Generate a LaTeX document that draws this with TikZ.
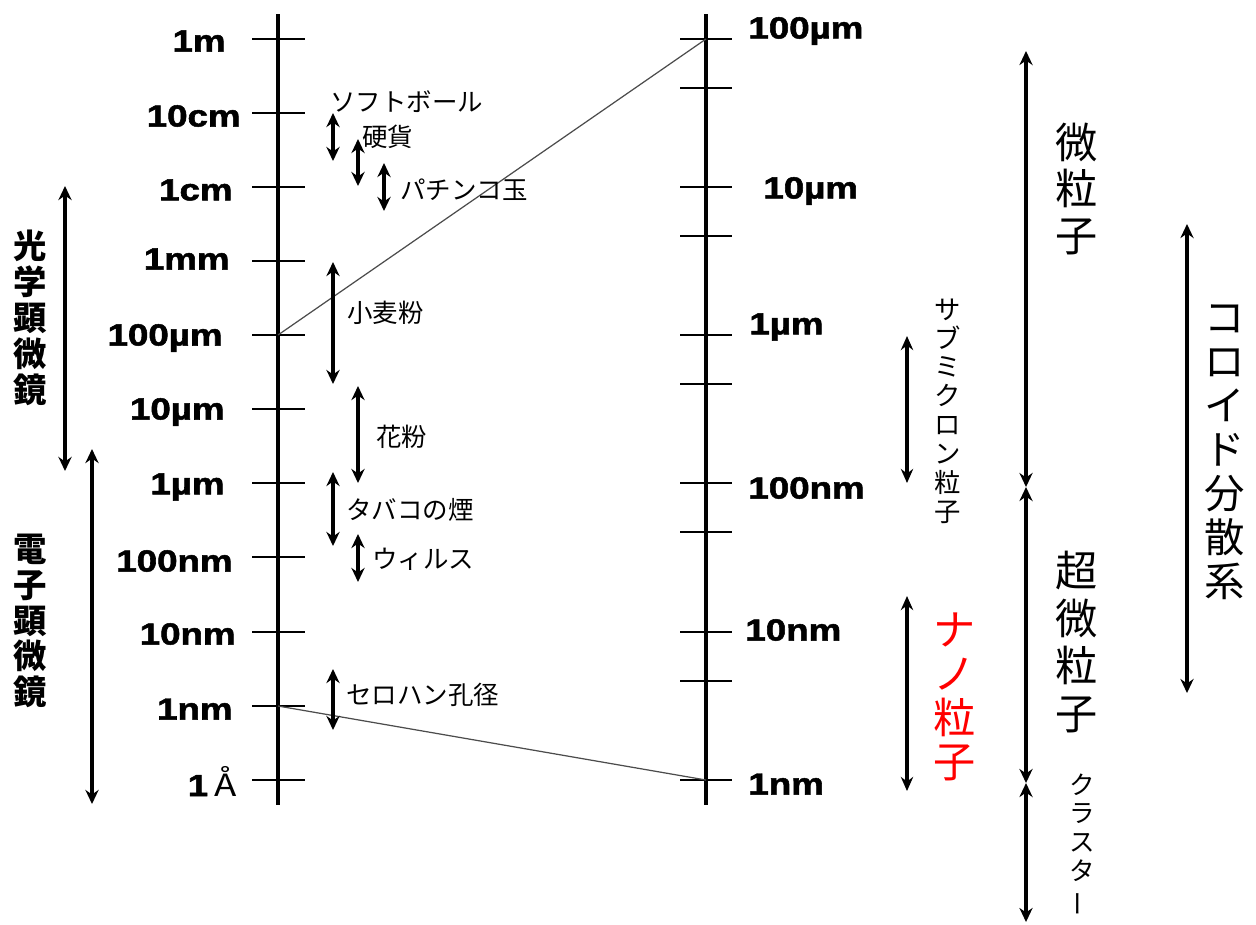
\documentclass[tikz,border=0pt]{standalone}
\usepackage{fontspec}
\usepackage{graphicx}
\setmainfont{Liberation Sans}
\newfontfamily\jp{Noto Sans CJK JP}
\newfontfamily\heavy[FakeBold=1.6]{Liberation Sans Bold}
\usetikzlibrary{arrows.meta}
\begin{document}
\begin{tikzpicture}[x=0.02cm,y=-0.02cm,
  axisline/.style={line width=2.4pt},
  tickline/.style={line width=0.8pt},
  link/.style={line width=0.7pt, draw=black!70},
  scalelbl/.style={font=\heavy\fontsize{17.4pt}{18pt}\selectfont, xscale=1.2, inner sep=0},
  item/.style={font=\jp\fontsize{14.5pt}{16pt}\selectfont, anchor=west, inner sep=0},
  rng/.style={line width=2.2pt, {Stealth[length=8pt,width=7.5pt]}-{Stealth[length=8pt,width=7.5pt]}},
  thinrng/.style={line width=1.8pt, {Stealth[length=8pt,width=7pt]}-{Stealth[length=8pt,width=7pt]}},
  vtext/.style={align=center, inner sep=0}
]
\useasboundingbox (0,0) rectangle (1256,924);

% left axis
\draw[axisline] (278,14) -- (278,805);
\foreach \yy in {39,113,187,261,335,409,483,557,632,706,780}
  \draw[tickline] (252,\yy) -- (305,\yy);
\node[scalelbl, anchor=east] (l1m)   at (226,41)  {1m};
\node[scalelbl, anchor=east] (l10cm) at (241,116) {10cm};
\node[scalelbl, anchor=east] (l1cm)  at (233,190) {1cm};
\node[scalelbl, anchor=east] (l1mm)  at (230,259) {1mm};
\node[scalelbl, anchor=east] (l100u) at (223,338) {100µm};
\node[scalelbl, anchor=east] (l10u)  at (225,412) {10µm};
\node[scalelbl, anchor=east] (l1u)   at (225,487) {1µm};
\node[scalelbl, anchor=east] (l100n) at (233,561) {100nm};
\node[scalelbl, anchor=east] (l10n)  at (236,634) {10nm};
\node[scalelbl, anchor=east] (l1n)   at (233,709) {1nm};
\node[scalelbl, anchor=east] (lA)    at (237,781) {1\,{\jp\mdseries Å}};

% right axis
\draw[axisline] (706,14) -- (706,805);
\foreach \yy in {39,88,187,236,335,384,483,532,632,681,780}
  \draw[tickline] (680,\yy) -- (732,\yy);
\node[scalelbl, anchor=west] (r100u) at (748,31)  {100µm};
\node[scalelbl, anchor=west] (r10u)  at (763,191) {10µm};
\node[scalelbl, anchor=west] (r1u)   at (749,327) {1µm};
\node[scalelbl, anchor=west] (r100n) at (748,488) {100nm};
\node[scalelbl, anchor=west] (r10n)  at (745,630) {10nm};
\node[scalelbl, anchor=west] (r1n)   at (748,784) {1nm};

% zoom links
\coordinate (a100u) at (278,335);
\coordinate (b100u) at (706,39);
\coordinate (a1n) at (278,706);
\coordinate (b1n) at (706,780);
\draw[link] (a100u) -- (b100u);
\draw[link] (a1n) -- (b1n);

% item ranges
\draw[rng] (333,113) -- (333,161);
\node[item] (softball) at (330,102) {ソフトボール};
\draw[rng] (358,139) -- (358,186);
\node[item] (coin) at (362,137) {硬貨};
\draw[rng] (384,163) -- (384,211);
\node[item] (pachinko) at (400,190) {パチンコ玉};
\draw[rng] (333,262) -- (333,384);
\node[item] (flour) at (347,313) {小麦粉};
\draw[rng] (358,386) -- (358,483);
\node[item] (pollen) at (376,437) {花粉};
\draw[rng] (333,472) -- (333,546);
\node[item] (smoke) at (346,510) {タバコの煙};
\draw[rng] (358,534) -- (358,582);
\node[item] (virus) at (372,559) {ウィルス};
\draw[rng] (333,669) -- (333,730);
\node[item] (cello) at (346,695) {セロハン孔径};

% microscopes
\draw[rng] (65,186) -- (65,471);
\node[vtext, font=\jp\bfseries\fontsize{19pt}{20.4pt}\selectfont] (optical) at (30,318) {光\\学\\顕\\微\\鏡};
\draw[rng] (92,449) -- (92,804);
\node[vtext, font=\jp\bfseries\fontsize{19pt}{20.4pt}\selectfont] (electron) at (30,621) {電\\子\\顕\\微\\鏡};

% right-hand classes
\draw[thinrng] (907,336) -- (907,483);
\node[vtext, font=\jp\fontsize{15pt}{16.4pt}\selectfont] (submicron) at (948,411) {サ\\ブ\\ミ\\ク\\ロ\\ン\\粒\\子};
\draw[thinrng] (907,596) -- (907,791);
\node[vtext, text=red, font=\jp\fontsize{24pt}{25pt}\selectfont] (nano) at (955,697) {ナ\\ノ\\粒\\子};

\draw[rng] (1026,51) -- (1026,487);
\draw[rng] (1026,487) -- (1026,783);
\draw[rng] (1026,783) -- (1026,922);
\node[vtext, font=\jp\fontsize{24pt}{26.6pt}\selectfont] (fine) at (1077,189) {微\\粒\\子};
\node[vtext, font=\jp\fontsize{24pt}{27pt}\selectfont] (ultrafine) at (1077,642) {超\\微\\粒\\子};
\node[vtext, font=\jp\fontsize{14.5pt}{16.4pt}\selectfont] (cluster) at (1082,845) {ク\\ラ\\ス\\タ\\\rotatebox[origin=c]{90}{ー}};

\draw[rng] (1187,224) -- (1187,693);
\node[vtext, font=\jp\fontsize{23pt}{25pt}\selectfont] (colloid) at (1225,452) {コ\\ロ\\イ\\ド\\分\\散\\系};
\end{tikzpicture}
\end{document}
